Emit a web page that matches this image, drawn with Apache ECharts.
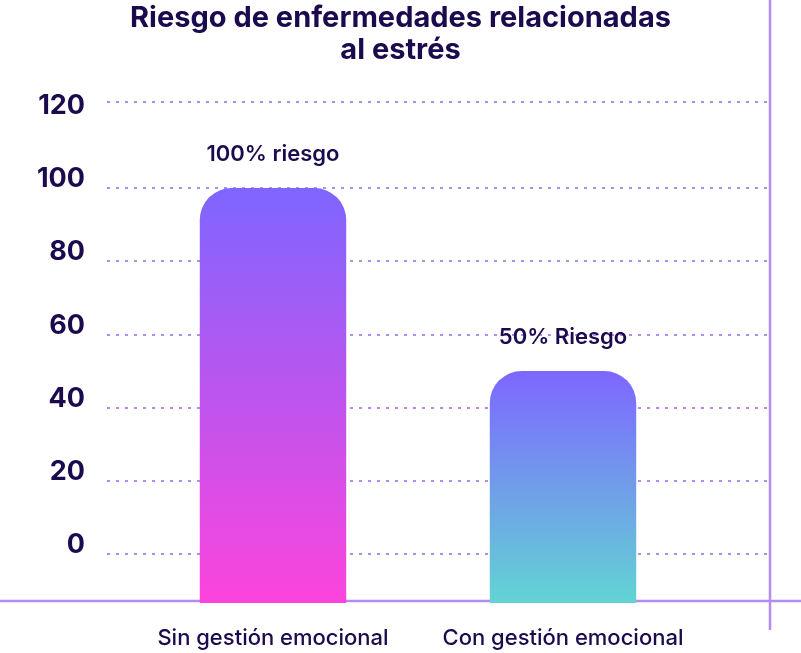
<!DOCTYPE html>
<html>
<head>
<meta charset="utf-8">
<script src="https://cdn.jsdelivr.net/npm/echarts@6/dist/echarts.min.js"></script>
<style>html,body{margin:0;padding:0;background:#fff}#c{width:801px;height:653px}</style>
</head>
<body>
<div id="c"></div>
<script>
const categories = ['Sin gestión emocional', 'Con gestión emocional'];
const values = [100, 50];
const barLabels = ['100% riesgo', '50% Riesgo'];
const yTicks = [0, 20, 40, 60, 80, 100, 120];
const titleText = 'Riesgo de enfermedades relacionadas\nal estrés';

const yMin = -13.4, yMax = 123.5;
const FONT = 'Inter, "Noto Sans", sans-serif';
const TXT = '#1c0a4e';
const LINE = '#b48cf0';
const gradients = [
  ['#7e66ff', '#fc44dc'],
  ['#7e66ff', '#62d4d4']
];
const gridLineVals = yTicks.slice(0, -1).concat([yMax]);

const chart = echarts.init(document.getElementById('c'));
chart.setOption({
  backgroundColor: '#fff',
  title: {
    text: titleText, left: 'center', top: 2, padding: [0, 0, 0, 32],
    textStyle: { fontFamily: FONT, fontSize: 29, fontWeight: 700, color: TXT, lineHeight: 32 }
  },
  grid: [
    { left: 107, right: 31, top: 102, bottom: 50 },
    { left: 128, right: 93, top: 102, bottom: 50 }
  ],
  xAxis: [
    { type: 'value', gridIndex: 0, show: false, min: 0, max: 1 },
    { type: 'category', gridIndex: 1, data: categories,
      axisLine: { show: false }, axisTick: { show: false },
      axisLabel: { interval: 0, hideOverlap: false, margin: 24, fontFamily: FONT, fontSize: 22, fontWeight: 500, color: TXT } }
  ],
  yAxis: [
    { type: 'value', gridIndex: 0, min: yMin, max: yMax,
      axisLine: { show: false },
      axisTick: { show: false, customValues: gridLineVals },
      splitLine: { show: true, customValues: gridLineVals, lineStyle: { color: LINE, width: 2, type: [3, 6] } },
      axisLabel: { customValues: yTicks, margin: 22, verticalAlign: 'bottom', lineHeight: 18,
        fontFamily: FONT, fontSize: 27, fontWeight: 700, color: TXT,
        formatter: v => String(v) } },
    { type: 'value', gridIndex: 1, min: yMin, max: yMax, show: false, splitLine: { show: false } }
  ],
  graphic: [
    { type: 'line', z: 1, shape: { x1: 0, y1: 601, x2: 801, y2: 601 }, style: { stroke: LINE, lineWidth: 2.5 } },
    { type: 'line', z: 1, shape: { x1: 770, y1: 0, x2: 770, y2: 630 }, style: { stroke: LINE, lineWidth: 2.5 } }
  ],
  series: [{
    type: 'custom', xAxisIndex: 1, yAxisIndex: 1, z: 10,
    data: values.map((v, i) => [i, v]),
    renderItem: function (params, api) {
      const i = api.value(0), v = api.value(1);
      const top = api.coord([i, v]);
      const bot = api.coord([i, yMin]);
      const w = api.size([1, 0])[0] * 0.505;
      const g = gradients[params.dataIndex];
      return {
        type: 'group',
        children: [
          { type: 'rect',
            shape: { x: top[0] - w / 2, y: top[1], width: w, height: bot[1] - top[1], r: [32, 32, 0, 0] },
            style: { fill: new echarts.graphic.LinearGradient(0, 0, 0, 1, [{ offset: 0, color: g[0] }, { offset: 1, color: g[1] }]) } },
          { type: 'text', x: top[0], y: top[1] - 34,
            style: { text: barLabels[params.dataIndex], align: 'center', verticalAlign: 'middle',
              fontFamily: FONT, fontSize: 22, fontWeight: 600, fill: TXT } }
        ]
      };
    }
  }]
});
</script>
</body>
</html>
